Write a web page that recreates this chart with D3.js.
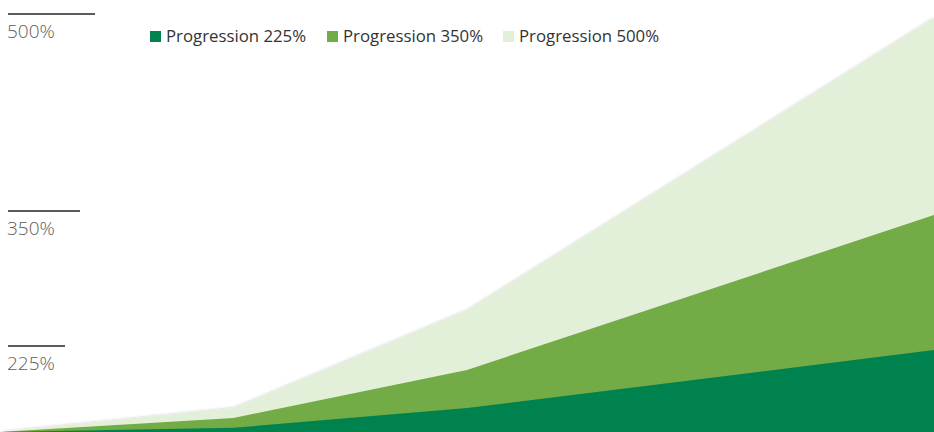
<!DOCTYPE html>
<html>
<head>
<meta charset="utf-8">
<script src="https://cdn.jsdelivr.net/npm/d3@7"></script>
<style>
  body { margin: 0; background: #fff; }
  svg { display: block; }
  .legend text { font-family: 'Open Sans', sans-serif; font-size: 16.8px; fill: #333; }
  .mark text { font-family: 'Open Sans', sans-serif; font-size: 19px; fill: #5c5c5c; font-weight: 300; }
</style>
</head>
<body>
<svg id="chart" width="934" height="432"></svg>
<script>
  // periods along the horizon
  const periods = [0, 1, 2, 4];
  // index values (arbitrary 0-500 scale)
  const prog225 = [0, 5, 29, 99];
  const prog350 = [0, 17, 75, 262];
  const prog500 = [0, 29, 147, 500];
  const seriesNames = ['Progression 225%', 'Progression 350%', 'Progression 500%'];
  const markLabels = ['500%', '350%', '225%'];
  const colors = ['#00824f', '#73ab46', '#e2efd9'];

  const width = 934, height = 432;
  const svg = d3.select('#chart');

  const x = d3.scaleLinear().domain(d3.extent(periods)).range([0, width]);
  const y = d3.scaleLinear().domain([0, 500]).range([height, 18]);

  const defs = svg.append('defs');
  const f = defs.append('filter').attr('id', 'shadow').attr('x', '-5%').attr('y', '-5%').attr('width', '110%').attr('height', '110%');
  f.append('feDropShadow').attr('dx', 0).attr('dy', 0).attr('stdDeviation', 1.5)
    .attr('flood-color', '#000').attr('flood-opacity', 0.25);

  const area = d3.area()
    .x(function(d, i) { return x(periods[i]); })
    .y0(height)
    .y1(function(d) { return y(d); });

  // draw back to front
  const series = [prog225, prog350, prog500];
  [2, 1, 0].forEach(function(k) {
    svg.append('path')
      .datum(series[k])
      .attr('d', area)
      .attr('fill', colors[k])
      .attr('filter', k === 2 ? 'url(#shadow)' : null);
  });

  // level marks on the left
  const marks = svg.append('g').attr('class', 'mark');
  const ends = [prog500, prog350, prog225].map(function(s) { return s[s.length - 1]; });
  ends.forEach(function(v, i) {
    const yy = Math.round(y(v)) - 4;
    marks.append('line')
      .attr('x1', 8).attr('x2', 95 - i * 15)
      .attr('y1', yy).attr('y2', yy)
      .attr('stroke', '#5a5a5a').attr('stroke-width', 2);
    marks.append('text')
      .attr('x', 7).attr('y', yy + 24)
      .text(markLabels[i]);
  });

  // legend
  const legend = svg.append('g').attr('class', 'legend');
  const legX = [150, 327, 503];
  seriesNames.forEach(function(name, i) {
    legend.append('rect')
      .attr('x', legX[i]).attr('y', 31).attr('width', 11).attr('height', 11)
      .attr('fill', colors[i]);
    legend.append('text')
      .attr('x', legX[i] + 16).attr('y', 42)
      .text(name);
  });
</script>
</body>
</html>
